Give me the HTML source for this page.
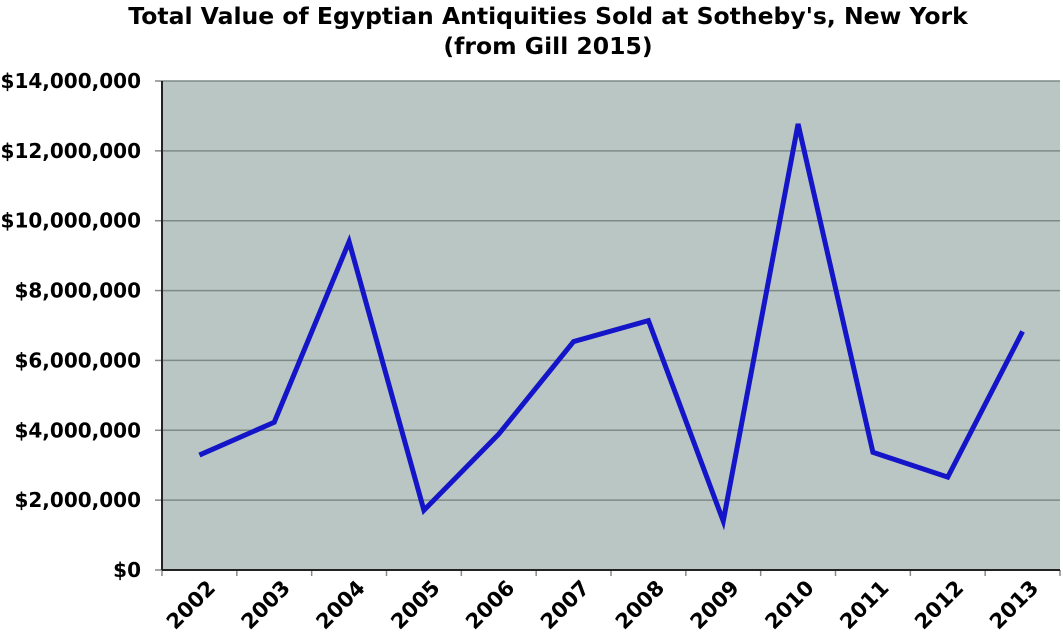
<!DOCTYPE html>
<html><head><meta charset="utf-8"><style>
body{margin:0;background:#fff;}
svg{display:block;font-family:"DejaVu Sans","Liberation Sans",sans-serif;font-weight:bold;}
</style></head><body>
<svg id="c" width="1063" height="638">
<text x="548" y="24" text-anchor="middle" font-size="23.5">Total Value of Egyptian Antiquities Sold at Sotheby's, New York</text>
<text x="548" y="54" text-anchor="middle" font-size="23.5">(from Gill 2015)</text>
</svg>
<script>
const years=["2002","2003","2004","2005","2006","2007","2008","2009","2010","2011","2012","2013"];
const values=[3290000,4230000,9400000,1710000,3890000,6540000,7140000,1400000,12770000,3370000,2660000,6830000];
const yTicks=[0,2000000,4000000,6000000,8000000,10000000,12000000,14000000];
const yTickLabels=["$0","$2,000,000","$4,000,000","$6,000,000","$8,000,000","$10,000,000","$12,000,000","$14,000,000"];
const svg=document.getElementById('c');const NS="http://www.w3.org/2000/svg";
const L=162,R=1060,T=81,B=570,yMax=14000000;
const cw=(R-L)/years.length;
const xs=i=>L+cw*(i+0.5);
const ys=v=>B-(v/yMax)*(B-T);
function mk(t,a){const e=document.createElementNS(NS,t);for(const k in a)e.setAttribute(k,a[k]);svg.appendChild(e);return e;}
const bg=mk('rect',{x:L,y:T,width:R-L,height:B-T,fill:'#b9c6c4'});


yTicks.forEach((v,i)=>{
 const y=ys(v);
 if(v>0){const g=mk('line',{x1:L,x2:R,y1:y,y2:y,stroke:'#7d8a88','stroke-width':1.5});
 
 }
 mk('line',{x1:L-7,x2:L,y1:y,y2:y,stroke:'#888','stroke-width':1.5});
 const t=mk('text',{x:L-21,y:y+7,'text-anchor':'end','font-size':20,textLength:0});
 t.removeAttribute('textLength');
 t.textContent=yTickLabels[i];
 
 
});
for(let i=0;i<=years.length;i++){const x=L+cw*i;mk('line',{x1:x,x2:x,y1:B,y2:B+6,stroke:'#888','stroke-width':1.5});}
years.forEach((yr,i)=>{
 const x=xs(i)+6,y=B+8;
 const t=mk('text',{x:x,y:y,'text-anchor':'end','font-size':21,transform:`rotate(-45 ${x} ${y})`,dy:'0.75em'});
 t.textContent=yr;
 
 
});
mk('line',{x1:L,x2:L,y1:T,y2:B,stroke:'#222','stroke-width':2});
mk('line',{x1:L,x2:R,y1:B,y2:B,stroke:'#222','stroke-width':2});
const p=mk('polyline',{points:values.map((v,i)=>xs(i)+','+ys(v)).join(' '),fill:'none',stroke:'#1414c8','stroke-width':5,'stroke-linejoin':'miter'});


</script>
</body></html>
